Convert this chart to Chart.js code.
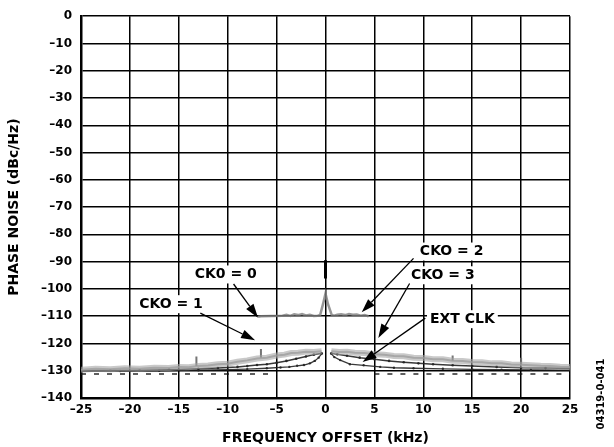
<!DOCTYPE html>
<html>
<head>
<meta charset="utf-8">
<script src="https://cdn.jsdelivr.net/npm/chart.js@4/dist/chart.umd.min.js"></script>
<style>
  html, body { margin: 0; padding: 0; background: #fff; }
  #wrap { width: 614px; height: 447px; }
</style>
</head>
<body>
<div id="wrap"><canvas id="noiseChart" width="614" height="447"></canvas></div>
<script>
// axis ticks (kHz / dBc/Hz)
const xTicks = [-25, -20, -15, -10, -5, 0, 5, 10, 15, 20, 25];
const yTicks = [0, -10, -20, -30, -40, -50, -60, -70, -80, -90, -100, -110, -120, -130, -140];

// CKO = 0 / CKO = 2 trace around -110 with the carrier bump
const midX = [-6.9, -6.6, -4.4, -4.0, -3.6, -3.2, -2.8, -2.4, -2.0, -1.6, -1.2, -0.8, -0.55, -0.25, 0, 0.25, 0.64, 0.9, 1.2, 1.6, 2.0, 2.4, 2.8, 3.2, 3.6, 4.0, 4.4];
const midY = [-110.2, -110.0, -109.8, -109.5, -109.9, -109.3, -109.6, -109.2, -109.7, -109.5, -109.9, -109.8, -109.6, -105.5, -101.7, -105.5, -109.6, -109.8, -109.5, -109.3, -109.6, -109.2, -109.5, -109.4, -109.8, -109.6, -110.0];

// short spur at the carrier
const spurX = [0, 0];
const spurY = [-89.5, -96.2];

// CKO = 1 / CKO = 3 (grey band), left and right of carrier
const greyLX = [-25, -23.5, -22, -20.5, -19, -17.5, -16, -15, -14, -13, -12, -11, -10, -9, -8, -7, -6, -5, -4.2, -3.5, -2.8, -2, -1.2, -0.4];
const greyLY = [-129.6, -129.3, -129.5, -129.1, -129.3, -128.9, -129.0, -128.6, -128.7, -128.3, -128.1, -127.6, -127.4, -126.7, -126.2, -125.5, -125.2, -124.4, -124.1, -123.5, -123.4, -123.0, -123.1, -122.9];
const greyRX = [0.6, 1.4, 2.2, 3, 4, 5, 6, 7, 8, 9, 10, 11, 12, 13, 14, 15, 16, 17, 18, 19, 20, 21, 22, 23, 24, 25];
const greyRY = [-122.9, -123.1, -123.0, -123.4, -123.5, -124.0, -124.1, -124.6, -124.7, -125.2, -125.3, -125.8, -125.8, -126.3, -126.4, -126.8, -126.9, -127.3, -127.3, -127.7, -127.8, -128.0, -128.2, -128.3, -128.5, -128.6];

// isolated spurs on the grey trace
const tickX = [-13.2, -6.6, 13.0, 20.0];
const tickBase = [-128.3, -125.2, -126.3, -127.8];
const tickTop = [-124.8, -122.0, -124.4, -125.2];

// dark upper trace
const darkLX = [-25, -22, -19, -16, -13, -11, -9, -8, -7, -6, -5, -4, -3, -2, -1.2, -0.4];
const darkLY = [-130.0, -129.9, -129.8, -129.6, -129.3, -129.0, -128.6, -128.3, -127.9, -127.6, -127.1, -126.4, -125.6, -124.8, -124.1, -123.6];
const darkRX = [0.6, 1.2, 2.2, 3.5, 5, 6.5, 8, 9.5, 11, 13, 15, 17.5, 20, 22.5, 25];
const darkRY = [-123.6, -124.0, -124.5, -125.2, -125.8, -126.4, -126.9, -127.3, -127.6, -128.0, -128.3, -128.6, -128.9, -129.0, -129.2];

// EXT CLK (lower loop)
const extLX = [-25, -21, -17, -13, -10, -8, -6, -4.6, -3.7, -2.9, -2.2, -1.6, -1.1, -0.7, -0.4];
const extLY = [-130.2, -130.1, -130.0, -129.8, -129.6, -129.4, -129.1, -128.8, -128.6, -128.2, -127.9, -127.3, -126.4, -125.2, -123.8];
const extRX = [0.6, 0.9, 1.5, 2.5, 3.9, 5.6, 7, 9, 12, 15, 18, 21, 25];
const extRY = [-123.8, -125.0, -126.1, -127.6, -128.0, -128.6, -128.9, -129.1, -129.3, -129.5, -129.6, -129.7, -129.8];

// dotted floor
const floorX = [-25, -5, 0, 5, 25];
const floorY = [-131.2, -131.2, null, -131.2, -131.2];

// callouts: text, text centre, arrow start, arrow tip (data units)
const callouts = [
  { text: 'CK0 = 0', at: [-10.2, -94.7], from: [-9.4, -98.2], to: [-6.9, -110.6] },
  { text: 'CKO = 1', at: [-15.8, -105.6], from: [-12.8, -108.9], to: [-7.2, -118.8] },
  { text: 'CKO = 2', at: [12.9, -86.3], from: [9.0, -88.8], to: [3.7, -108.6] },
  { text: 'CKO = 3', at: [12.0, -95.0], from: [8.6, -98.0], to: [5.4, -118.0] },
  { text: 'EXT CLK', at: [14.0, -111.1], from: [10.2, -110.7], to: [3.8, -126.8] },
];

function pts(xs, ys) {
  return xs.map((x, i) => ({ x, y: ys[i] }));
}

const grey = 'rgba(140,140,140,0.75)';
const dark = 'rgba(35,35,35,0.9)';

function series(data, color, width, radius, extra) {
  return Object.assign({
    data,
    borderColor: color,
    backgroundColor: color,
    borderWidth: width,
    pointRadius: radius || 0,
    pointBorderWidth: 0,
    tension: 0,
    fill: false,
    spanGaps: false,
  }, extra || {});
}

const calloutPlugin = {
  id: 'callouts',
  afterDraw(chart) {
    const { ctx, scales } = chart;
    const px = (p) => [scales.x.getPixelForValue(p[0]), scales.y.getPixelForValue(p[1])];
    ctx.save();
    ctx.font = 'bold 14px "DejaVu Sans"';
    ctx.textAlign = 'center';
    ctx.textBaseline = 'middle';
    callouts.forEach((c) => {
      const [tx, ty] = px(c.at);
      const w = ctx.measureText(c.text).width;
      ctx.fillStyle = '#fff';
      ctx.fillRect(tx - w / 2 - 3, ty - 9, w + 6, 18);
      ctx.fillStyle = '#000';
      ctx.fillText(c.text, tx, ty);

      const [x1, y1] = px(c.from);
      const [x2, y2] = px(c.to);
      const ang = Math.atan2(y2 - y1, x2 - x1);
      const len = 14, half = 4.5;
      const bx = x2 - len * Math.cos(ang), by = y2 - len * Math.sin(ang);
      ctx.strokeStyle = '#000';
      ctx.lineWidth = 1.3;
      ctx.beginPath();
      ctx.moveTo(x1, y1);
      ctx.lineTo(bx, by);
      ctx.stroke();
      ctx.beginPath();
      ctx.moveTo(x2, y2);
      ctx.lineTo(bx + half * Math.sin(ang), by - half * Math.cos(ang));
      ctx.lineTo(bx - half * Math.sin(ang), by + half * Math.cos(ang));
      ctx.closePath();
      ctx.fill();
    });

    // figure code on the right edge
    ctx.translate(601, 394);
    ctx.rotate(-Math.PI / 2);
    ctx.font = 'bold 10px "DejaVu Sans"';
    ctx.fillText('04319-0-041', 0, 0);
    ctx.restore();
  },
};

const tickFont = { family: '"DejaVu Sans"', size: 12, weight: 'bold' };
const dash = (v) => String(v).replace('-', '\u2013');

const spurSets = tickX.map((x, i) =>
  series(pts([x, x], [tickBase[i], tickTop[i]]), 'rgba(110,110,110,0.95)', 2));

new Chart(document.getElementById('noiseChart'), {
  type: 'line',
  data: {
    datasets: [
      series(pts(floorX, floorY), 'rgba(20,20,20,0.9)', 1.3, 0, { borderDash: [5, 8] }),
      series(pts(greyLX, greyLY), 'rgba(165,165,165,0.6)', 6),
      series(pts(greyRX, greyRY), 'rgba(165,165,165,0.6)', 6),
      series(pts(greyLX, greyLY), grey, 2),
      series(pts(greyRX, greyRY), grey, 2),
      ...spurSets,
      series(pts(darkLX, darkLY), dark, 1.5, 1.3),
      series(pts(darkRX, darkRY), dark, 1.5, 1.3),
      series(pts(extLX, extLY), dark, 1.3, 1.2),
      series(pts(extRX, extRY), dark, 1.3, 1.2),
      series(pts(midX, midY), 'rgba(125,125,125,0.8)', 2.5),
      series(pts(spurX, spurY), '#000', 3),
    ],
  },
  options: {
    responsive: false,
    animation: false,
    events: [],
    layout: { padding: { left: 0, top: 15, right: 44, bottom: 0 } },
    plugins: { legend: { display: false }, tooltip: { enabled: false } },
    scales: {
      x: {
        type: 'linear',
        min: -25,
        max: 25,
        afterFit: (s) => { s.height = 49; },
        afterBuildTicks: (s) => { s.ticks = xTicks.map((v) => ({ value: v })); },
        ticks: { color: '#000', font: tickFont, padding: 5, maxRotation: 0, callback: dash },
        grid: { color: '#000', lineWidth: 1.5, drawTicks: false },
        border: { color: '#000', width: 2.5 },
        title: {
          display: true,
          text: 'FREQUENCY OFFSET (kHz)',
          color: '#000',
          font: { family: '"DejaVu Sans"', size: 14, weight: 'bold' },
          padding: { top: 3, bottom: 0 },
        },
      },
      y: {
        type: 'linear',
        min: -140,
        max: 0,
        afterFit: (s) => { s.width = 81; },
        afterBuildTicks: (s) => { s.ticks = yTicks.map((v) => ({ value: v })); },
        ticks: { color: '#000', font: tickFont, padding: 9, callback: dash },
        grid: { color: '#000', lineWidth: 1.5, drawTicks: false },
        border: { color: '#000', width: 2.5 },
        title: {
          display: true,
          text: 'PHASE NOISE (dBc/Hz)',
          color: '#000',
          font: { family: '"DejaVu Sans"', size: 14, weight: 'bold' },
          padding: { top: 6, bottom: 0 },
        },
      },
    },
  },
  plugins: [calloutPlugin],
});
</script>
</body>
</html>
